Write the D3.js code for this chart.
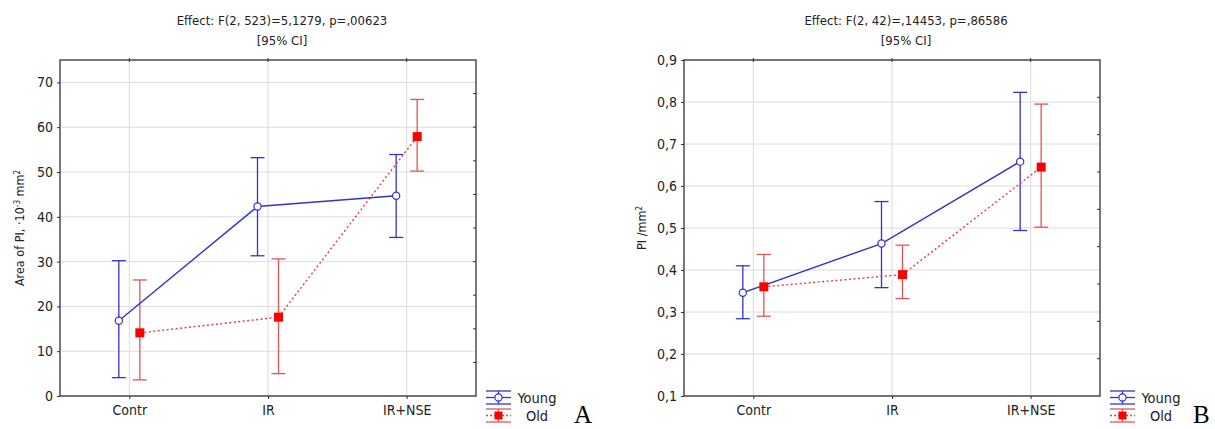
<!DOCTYPE html>
<html>
<head>
<meta charset="utf-8">
<script src="https://cdn.jsdelivr.net/npm/d3@7"></script>
<style>
body { margin: 0; background: #fff; }
text { font-family: "DejaVu Sans Condensed", "DejaVu Sans", sans-serif; fill: #222; }
.tick { font-size: 14px; }
.title { font-size: 13px; }
.axisLabel { font-size: 12.5px; }
.legend { font-size: 14.5px; }
.panelTag { font-family: "Liberation Serif", serif; font-size: 25px; fill: #000; }
</style>
</head>
<body>
<div id="drawing"></div>
<script>
"use strict"

/**** Configuration ****/
let svgWidth = 1215
let svgHeight = 429

let blue = "#3333cc"
let red = "#ff0000"
let redBar = "#e25555"
let gridColor = "#dcdcdc"

/**** DATA ****/
let categories = ["Contr", "IR", "IR+NSE"]
let seriesNames = ["Young", "Old"]

// panel A : area of PI
let aYoungMean = [16.8, 42.3, 44.7]
let aYoungLow  = [4.1, 31.3, 35.4]
let aYoungHigh = [30.2, 53.2, 53.9]
let aOldMean = [14.1, 17.6, 57.9]
let aOldLow  = [3.6, 5.0, 50.2]
let aOldHigh = [25.9, 30.6, 66.2]
let aTicks = [0, 10, 20, 30, 40, 50, 60, 70]
let aTickLabels = ["0", "10", "20", "30", "40", "50", "60", "70"]

// panel B : PI /mm2
let bYoungMean = [0.346, 0.463, 0.658]
let bYoungLow  = [0.284, 0.358, 0.494]
let bYoungHigh = [0.410, 0.563, 0.823]
let bOldMean = [0.360, 0.389, 0.645]
let bOldLow  = [0.290, 0.332, 0.502]
let bOldHigh = [0.437, 0.459, 0.795]
let bTicks = [0.1, 0.2, 0.3, 0.4, 0.5, 0.6, 0.7, 0.8, 0.9]
let bTickLabels = ["0,1", "0,2", "0,3", "0,4", "0,5", "0,6", "0,7", "0,8", "0,9"]

let titlesA = ["Effect: F(2, 523)=5,1279, p=,00623", "[95% CI]"]
let titlesB = ["Effect: F(2, 42)=,14453, p=,86586", "[95% CI]"]

function toRows(mean, low, high) {
    return categories.map((c, i) => ({cat: c, mean: mean[i], low: low[i], high: high[i]}))
}

let svg = d3.select("#drawing")
.append("svg")
.attr("width", svgWidth)
.attr("height", svgHeight)

function drawPanel(cfg) {
    let left = cfg.left, right = cfg.left + 416
    let top = 60, bottom = 396

    let g = svg.append("g")

    let xScale = d3.scalePoint()
    .domain(categories)
    .range([left, right])
    .padding(0.5)

    let yScale = d3.scaleLinear()
    .domain(cfg.domain)
    .range([bottom, top])

    /* grid */
    g.selectAll("line.hgrid")
    .data(cfg.ticks)
    .join("line")
    .attr("class", "hgrid")
    .attr("x1", left).attr("x2", right)
    .attr("y1", d => yScale(d)).attr("y2", d => yScale(d))
    .attr("stroke", gridColor)

    g.selectAll("line.vgrid")
    .data(categories)
    .join("line")
    .attr("class", "vgrid")
    .attr("x1", d => xScale(d)).attr("x2", d => xScale(d))
    .attr("y1", top).attr("y2", bottom)
    .attr("stroke", gridColor)

    /* frame */
    g.append("rect")
    .attr("x", left).attr("y", top)
    .attr("width", right - left).attr("height", bottom - top)
    .attr("fill", "none")
    .attr("stroke", "#333")
    .attr("stroke-width", 1.3)

    /* left axis */
    let yAxis = d3.axisLeft(yScale)
    .tickValues(cfg.ticks)
    .tickFormat((d, i) => cfg.tickLabels[i])
    .tickSize(3)
    .tickPadding(4)
    let ya = g.append("g").attr("transform", `translate(${left},0)`).call(yAxis)
    ya.select(".domain").remove()
    ya.selectAll("line").attr("stroke", "#333")
    ya.selectAll("text").attr("class", "tick").attr("fill", "#222")
    ya.attr("font-family", null).attr("font-size", null)

    /* bottom axis */
    let xAxis = d3.axisBottom(xScale).tickSize(3).tickPadding(6)
    let xa = g.append("g").attr("transform", `translate(0,${bottom})`).call(xAxis)
    xa.select(".domain").remove()
    xa.selectAll("line").attr("stroke", "#333")
    xa.selectAll("text").attr("class", "tick").attr("fill", "#222")
    xa.attr("font-family", null).attr("font-size", null)

    /* top ticks at categories */
    g.selectAll("line.topTick")
    .data(categories)
    .join("line")
    .attr("class", "topTick")
    .attr("x1", d => xScale(d)).attr("x2", d => xScale(d))
    .attr("y1", top - 2).attr("y2", top + 2)
    .attr("stroke", "#333")

    /* right-side minor ticks */
    let rightTicks = d3.range(1, cfg.rightDivs).map(i => top + i * (bottom - top) / cfg.rightDivs)
    g.selectAll("line.rightTick")
    .data(rightTicks)
    .join("line")
    .attr("class", "rightTick")
    .attr("x1", right - 3).attr("x2", right)
    .attr("y1", d => d).attr("y2", d => d)
    .attr("stroke", "#333")

    /* series */
    let series = [
        {name: "Young", rows: toRows(cfg.young[0], cfg.young[1], cfg.young[2]), dx: -10.5, line: blue, bar: blue, dash: null},
        {name: "Old", rows: toRows(cfg.old[0], cfg.old[1], cfg.old[2]), dx: 10.5, line: "#e04040", bar: redBar, dash: "2,2.5"}
    ]

    series.forEach(s => {
        let bars = g.append("g")
        bars.selectAll("line.whisk")
        .data(s.rows)
        .join("line")
        .attr("x1", d => xScale(d.cat) + s.dx).attr("x2", d => xScale(d.cat) + s.dx)
        .attr("y1", d => yScale(d.low)).attr("y2", d => yScale(d.high))
        .attr("stroke", s.bar).attr("stroke-width", 1.3)
        bars.selectAll("line.capHi")
        .data(s.rows)
        .join("line")
        .attr("x1", d => xScale(d.cat) + s.dx - 7).attr("x2", d => xScale(d.cat) + s.dx + 7)
        .attr("y1", d => yScale(d.high)).attr("y2", d => yScale(d.high))
        .attr("stroke", s.bar).attr("stroke-width", 1.3)
        bars.selectAll("line.capLo")
        .data(s.rows)
        .join("line")
        .attr("x1", d => xScale(d.cat) + s.dx - 7).attr("x2", d => xScale(d.cat) + s.dx + 7)
        .attr("y1", d => yScale(d.low)).attr("y2", d => yScale(d.low))
        .attr("stroke", s.bar).attr("stroke-width", 1.3)
    })

    series.slice().reverse().forEach(s => {
        let line = d3.line().x(d => xScale(d.cat) + s.dx).y(d => yScale(d.mean))
        g.append("path")
        .datum(s.rows)
        .attr("d", line)
        .attr("fill", "none")
        .attr("stroke", s.line)
        .attr("stroke-width", 1.4)
        .attr("stroke-dasharray", s.dash)
    })

    // markers
    g.selectAll("circle.young")
    .data(series[0].rows)
    .join("circle")
    .attr("class", "young")
    .attr("cx", d => xScale(d.cat) + series[0].dx)
    .attr("cy", d => yScale(d.mean))
    .attr("r", 3.6)
    .attr("fill", "white")
    .attr("stroke", blue)
    .attr("stroke-width", 1.2)

    g.selectAll("rect.old")
    .data(series[1].rows)
    .join("rect")
    .attr("class", "old")
    .attr("x", d => xScale(d.cat) + series[1].dx - 4.5)
    .attr("y", d => yScale(d.mean) - 4.5)
    .attr("width", 9).attr("height", 9)
    .attr("fill", red)

    /* title */
    cfg.titles.forEach((t, i) => {
        g.append("text")
        .attr("class", "title")
        .attr("x", (left + right) / 2 + 14)
        .attr("y", 25 + i * 20)
        .style("text-anchor", "middle")
        .text(t)
    })

    /* y label */
    let lab = g.append("text")
    .attr("class", "axisLabel")
    .attr("transform", `translate(${cfg.labelX},${(top + bottom) / 2}) rotate(-90)`)
    .style("text-anchor", "middle")
    cfg.label.forEach(p => {
        let ts = lab.append("tspan").text(p.t)
        if (p.sup) ts.attr("baseline-shift", "super").style("font-size", "8px")
    })

    /* legend */
    let lx = right + 10
    let legendRows = [
        {name: "Young", y: 397.5, color: blue, bar: blue, dash: null},
        {name: "Old", y: 415.5, color: "#e04040", bar: redBar, dash: "2,2"}
    ]
    legendRows.forEach(r => {
        let lg = g.append("g")
        lg.append("line").attr("x1", lx).attr("x2", lx + 25).attr("y1", r.y - 6.5).attr("y2", r.y - 6.5).attr("stroke", r.bar).attr("stroke-width", 1.3)
        lg.append("line").attr("x1", lx).attr("x2", lx + 25).attr("y1", r.y + 6.5).attr("y2", r.y + 6.5).attr("stroke", r.bar).attr("stroke-width", 1.3)
        lg.append("line").attr("x1", lx + 12.5).attr("x2", lx + 12.5).attr("y1", r.y - 6.5).attr("y2", r.y + 6.5).attr("stroke", r.bar).attr("stroke-width", 1.3)
        lg.append("line").attr("x1", lx).attr("x2", lx + 25).attr("y1", r.y).attr("y2", r.y).attr("stroke", r.color).attr("stroke-width", 1.3).attr("stroke-dasharray", r.dash)
        if (r.name === "Young") {
            lg.append("circle").attr("cx", lx + 12.5).attr("cy", r.y).attr("r", 3.6).attr("fill", "white").attr("stroke", blue).attr("stroke-width", 1.2)
        } else {
            lg.append("rect").attr("x", lx + 8.5).attr("y", r.y - 4).attr("width", 8).attr("height", 8).attr("fill", red)
        }
        lg.append("text")
        .attr("class", "legend")
        .attr("x", lx + 51)
        .attr("y", r.y + 5)
        .style("text-anchor", "middle")
        .text(r.name)
    })

    g.append("text")
    .attr("class", "panelTag")
    .attr("x", cfg.tagX)
    .attr("y", 423)
    .text(cfg.tag)
}

drawPanel({
    left: 60, domain: [0, 75], ticks: aTicks, tickLabels: aTickLabels, rightDivs: 10,
    young: [aYoungMean, aYoungLow, aYoungHigh], old: [aOldMean, aOldLow, aOldHigh],
    titles: titlesA, labelX: 24,
    label: [{t: "Area of PI, ·10"}, {t: "-3", sup: true}, {t: " mm"}, {t: "2", sup: true}],
    tag: "A", tagX: 574
})

drawPanel({
    left: 684, domain: [0.1, 0.9], ticks: bTicks, tickLabels: bTickLabels, rightDivs: 9,
    young: [bYoungMean, bYoungLow, bYoungHigh], old: [bOldMean, bOldLow, bOldHigh],
    titles: titlesB, labelX: 646,
    label: [{t: "PI /mm"}, {t: "2", sup: true}],
    tag: "B", tagX: 1193
})
</script>
</body>
</html>
